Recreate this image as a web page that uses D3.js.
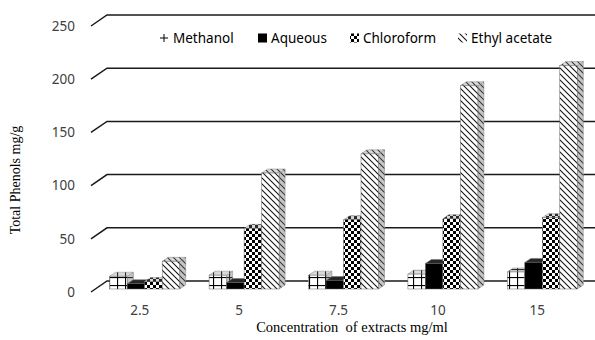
<!DOCTYPE html>
<html><head><meta charset="utf-8">
<script src="https://cdn.jsdelivr.net/npm/d3@7"></script>
<style>body{margin:0;background:#fff}svg{display:block}</style>
</head><body>
<svg id="c" width="595" height="340"></svg>
<script>
const categories = ["2.5", "5", "7.5", "10", "15"];
const seriesNames = ["Methanol", "Aqueous", "Chloroform", "Ethyl acetate"];
const methanol = [12, 13, 13, 14, 16];
const aqueous = [5, 6, 8, 24, 25];
const chloroform = [7, 57, 65, 66, 67];
const ethylAcetate = [26, 109, 127, 191, 210];
const yTicks = [0, 50, 100, 150, 200, 250];
const seriesValues = [methanol, aqueous, chloroform, ethylAcetate];

const svg = d3.select("#c");
const W = 595, H = 340;
const defs = svg.append("defs");

// patterns
const pGrid = defs.append("pattern").attr("id","pGrid").attr("patternUnits","userSpaceOnUse")
  .attr("width",8).attr("height",8).attr("x",2).attr("y",2);
pGrid.append("rect").attr("width",8).attr("height",8).attr("fill","#fff");
pGrid.append("rect").attr("x",3).attr("width",1.1).attr("height",8).attr("fill","#000");
pGrid.append("rect").attr("y",3).attr("width",8).attr("height",1.1).attr("fill","#000");

const pSolid = defs.append("pattern").attr("id","pSolid").attr("patternUnits","userSpaceOnUse")
  .attr("width",4).attr("height",4);
pSolid.append("rect").attr("width",4).attr("height",4).attr("fill","#000");

const pChk = defs.append("pattern").attr("id","pChk").attr("patternUnits","userSpaceOnUse")
  .attr("width",6).attr("height",6);
pChk.append("rect").attr("width",6).attr("height",6).attr("fill","#fff");
pChk.append("rect").attr("width",3).attr("height",3).attr("fill","#000");
pChk.append("rect").attr("x",3).attr("y",3).attr("width",3).attr("height",3).attr("fill","#000");

const pDiag = defs.append("pattern").attr("id","pDiag").attr("patternUnits","userSpaceOnUse")
  .attr("width",6).attr("height",6);
pDiag.append("rect").attr("width",6).attr("height",6).attr("fill","#fff");
pDiag.append("path").attr("d","M0,0L6,6M-3,3L3,9M3,-3L9,3").attr("stroke","#111").attr("stroke-width",1.05);

const fills = ["url(#pGrid)","url(#pSolid)","url(#pChk)","url(#pDiag)"];

// geometry
const x = d3.scaleBand().domain(categories).range([91, 588]).padding(0);
const y = d3.scaleLinear().domain([0, 250]).range([292, 26]);
const gdx = 16, gdy = -11;      // wall depth
const bdx = 6, bdy = -4;        // bar depth
const barShift = -3;            // bar front plane offset
const barW = 17.5;

// gridlines
const grid = svg.append("g");
yTicks.forEach(t => {
  const y0 = y(t);
  grid.append("path")
    .attr("d", `M${91},${y0}L${91+gdx},${y0+gdy}L${W},${y0+gdy}`)
    .attr("fill","none").attr("stroke","#1a1a1a").attr("stroke-width",1.5);
});

// y tick labels
svg.append("g").selectAll("text").data(yTicks).join("text")
  .attr("x", 75).attr("y", d => y(d)).attr("dy","0.35em")
  .attr("text-anchor","end")
  .style("font-family","'Noto Sans', sans-serif").style("font-size","13.5px").attr("fill","#404040")
  .text(d => d);

// bars
const bars = svg.append("g");
categories.forEach((c, ci) => {
  const cx = x(c) + x.bandwidth()/2;
  seriesValues.forEach((vals, si) => {
    const v = vals[ci];
    const x0 = cx - 31 + si*barW, x1 = x0 + barW;
    const yb = y(0) + barShift, yt = y(v) + barShift;
    const g = bars.append("g");
    // side
    const side = `M${x1},${yt}L${x1+bdx},${yt+bdy}L${x1+bdx},${yb+bdy}L${x1},${yb}Z`;
    g.append("path").attr("d", side).attr("fill", fills[si]);
    g.append("path").attr("d", side).attr("fill", "rgba(110,110,110,0.4)").attr("stroke","#888").attr("stroke-width",0.5);
    // top
    const top = `M${x0},${yt}L${x0+bdx},${yt+bdy}L${x1+bdx},${yt+bdy}L${x1},${yt}Z`;
    g.append("path").attr("d", top).attr("fill", fills[si]);
    g.append("path").attr("d", top).attr("fill", "rgba(130,130,130,0.3)").attr("stroke","#888").attr("stroke-width",0.5);
    // front
    g.append("rect").attr("x", x0).attr("y", yt).attr("width", barW).attr("height", yb - yt)
      .attr("fill", fills[si]).attr("stroke","#666").attr("stroke-width",0.5);
  });
});

// x tick labels
svg.append("g").selectAll("text").data(categories).join("text")
  .attr("x", d => x(d) + x.bandwidth()/2 - 1).attr("y", 310).attr("dy","0.35em")
  .attr("text-anchor","middle")
  .style("font-family","'Noto Sans', sans-serif").style("font-size","13.5px").attr("fill","#404040")
  .text(d => d);

// axis titles
svg.append("text").attr("x", 352).attr("y", 327).attr("dy","0.35em").attr("text-anchor","middle")
  .style("font-family","'Liberation Serif', serif").style("font-size","14.5px").attr("fill","#000")
  .attr("xml:space","preserve").style("white-space","pre")
  .text("Concentration  of extracts mg/ml");
svg.append("text").attr("transform","translate(15,180) rotate(-90)").attr("dy","0.35em").attr("text-anchor","middle")
  .style("font-family","'Liberation Serif', serif").style("font-size","14px").attr("fill","#000")
  .text("Total Phenols mg/g");

// legend
const legX = [160, 258, 350, 458];
const leg = svg.append("g");
seriesNames.forEach((n, i) => {
  const lx = legX[i], ly = 38;
  if (i === 0) {
    leg.append("path").attr("d", `M${lx},${ly}L${lx+8},${ly}M${lx+4},${ly-4}L${lx+4},${ly+4}`)
      .attr("stroke","#000").attr("stroke-width",1);
  } else {
    leg.append("rect").attr("x", lx).attr("y", ly-4.5).attr("width", 9).attr("height", 9)
      .attr("fill", fills[i]);
  }
  leg.append("text").attr("x", lx + 13).attr("y", ly).attr("dy","0.35em")
    .style("font-family","'Noto Sans', sans-serif").style("font-size","13.5px").attr("fill","#000")
    .text(n);
});
</script>
</body></html>
